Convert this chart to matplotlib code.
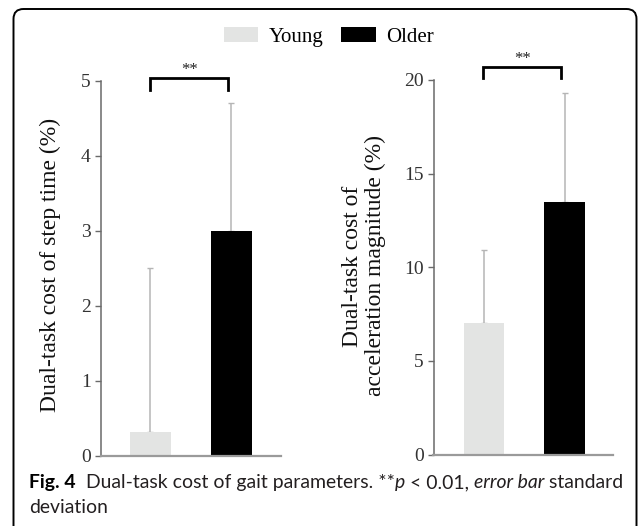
import matplotlib
matplotlib.use('Agg')
import matplotlib.pyplot as plt
from matplotlib.patches import FancyBboxPatch, Patch

# ---------------- data ----------------
groups = ['Young', 'Older']
bar_colors = ['#e3e4e3', '#000000']

step_time_mean = [0.31, 3.0]
step_time_sd = [2.19, 1.70]
step_ticks = [0, 1, 2, 3, 4, 5]

accel_mean = [7.0, 13.5]
accel_sd = [3.9, 5.8]
accel_ticks = [0, 5, 10, 15, 20]

left_label = 'Dual-task cost of step time (%)'
right_label = 'Dual-task cost of\nacceleration magnitude (%)'
sig_text = '**'

# ---------------- figure ----------------
W, H = 638, 526
DPI = 100
fig = plt.figure(figsize=(W / DPI, H / DPI), dpi=DPI)
fig.patch.set_facecolor('white')

SERIF = 'Liberation Serif'
TICK_COLOR = '#333333'


def px_axes(x0, x1, ytop, ybot):
    return fig.add_axes([x0 / W, (H - ybot) / H, (x1 - x0) / W, (ybot - ytop) / H])


def style_axes(ax, ticks):
    for s in ['top', 'right']:
        ax.spines[s].set_visible(False)
    ax.spines['left'].set_color('#6a6a6a')
    ax.spines['bottom'].set_color('#9a9a9a')
    ax.spines['left'].set_linewidth(1.1)
    ax.spines['bottom'].set_linewidth(1.6)
    ax.set_xticks([])
    ax.set_yticks(ticks)
    ax.set_yticklabels([str(t) for t in ticks])
    ax.tick_params(axis='y', direction='out', length=4, width=1, color='#6a6a6a',
                   labelsize=14, labelcolor=TICK_COLOR, pad=3)
    for lab in ax.get_yticklabels():
        lab.set_family(SERIF)


def draw_panel(ax, means, sds, ticks, ymax, xlim, br_top, br_leg):
    x = list(range(len(means)))
    ax.errorbar(x, means, yerr=[[0] * len(sds), sds], fmt='none', ecolor='#b5b5b5',
                elinewidth=1.1, capsize=2.5, capthick=1.0, zorder=1)
    ax.bar(x, means, width=0.5, color=bar_colors, edgecolor='none', zorder=2)
    ax.set_xlim(*xlim)
    ax.set_ylim(0, ymax)
    style_axes(ax, ticks)
    ax.plot([-0.01, -0.01, 0.96, 0.96], [br_leg, br_top, br_top, br_leg], color='black',
            lw=2.0, clip_on=False, solid_joinstyle='miter', zorder=3)
    ax.text(0.48, br_top, sig_text, ha='center', va='bottom', fontsize=12,
            family=SERIF, color='#222222', clip_on=False)


ax1 = px_axes(100.5, 281, 80.7, 455.5)
draw_panel(ax1, step_time_mean, step_time_sd, step_ticks, 5, (-0.617, 1.614), 5.04, 4.88)

ax2 = px_axes(433.5, 613, 80.0, 454.5)
draw_panel(ax2, accel_mean, accel_sd, accel_ticks, 20, (-0.63, 1.602), 20.72, 20.12)

# y labels
fig.text(50 / W, 1 - 265 / H, left_label, rotation=90, ha='center', va='center',
         fontsize=17, family=SERIF, color='#111111')
fig.text(364 / W, 1 - 266 / H, right_label, rotation=90, ha='center', va='center',
         fontsize=17, family=SERIF, color='#111111', linespacing=1.1, multialignment='center')

# legend
handles = [Patch(facecolor=c, edgecolor='none', label=g) for g, c in zip(groups, bar_colors)]
leg = fig.legend(handles=handles, loc='center', bbox_to_anchor=(329 / W, 1 - 37 / H),
                 ncol=2, frameon=False, prop={'family': SERIF, 'size': 15},
                 handlelength=1.65, handleheight=0.75, handletextpad=0.5,
                 columnspacing=0.85, borderaxespad=0, borderpad=0)

# frame
frame = FancyBboxPatch((13.5, -30), 623, H - 9 + 30, boxstyle='round,pad=0,rounding_size=10',
                       transform=None, facecolor='none', edgecolor='black', linewidth=1.4,
                       zorder=10)
fig.patches.append(frame)

# caption
CAP_FONT = 'Lato'
renderer = fig.canvas.get_renderer()


def measure(txt, size, weight='normal', style='normal'):
    t = fig.text(0, 0, txt, fontsize=size, family=CAP_FONT, weight=weight, style=style)
    w = t.get_window_extent(renderer).width
    t.remove()
    return w


line1 = [('Fig. 4', 'bold', 'normal'), ('  ', 'normal', 'normal'),
         ('Dual-task cost of gait parameters. **', 'normal', 'normal'),
         ('p', 'normal', 'italic'), (' < 0.01, ', 'normal', 'normal'),
         ('error bar', 'normal', 'italic'), (' standard', 'normal', 'normal')]
line2 = [('deviation', 'normal', 'normal')]


def run_width(txt, size, weight, style):
    return measure('|' + txt + '|', size, weight, style) - measure('||', size, weight, style)


CAP_X0 = 29
CAP_X1 = 619
base = 12
tot = sum(run_width(t, base, w, s) for t, w, s in line1)
cap_size = base * ((CAP_X1 - CAP_X0) / tot)


def draw_line(runs, x0, ybase):
    x = x0
    for txt, w, s in runs:
        fig.text(x / W, 1 - ybase / H, txt, fontsize=cap_size, family=CAP_FONT, weight=w,
                 style=s, ha='left', va='baseline',
                 color='#000000' if w == 'bold' else '#231f20')
        x += run_width(txt, cap_size, w, s)


draw_line(line1, CAP_X0, 488)
draw_line(line2, CAP_X0, 513)

fig.savefig('out.png', dpi=DPI, facecolor='white')
